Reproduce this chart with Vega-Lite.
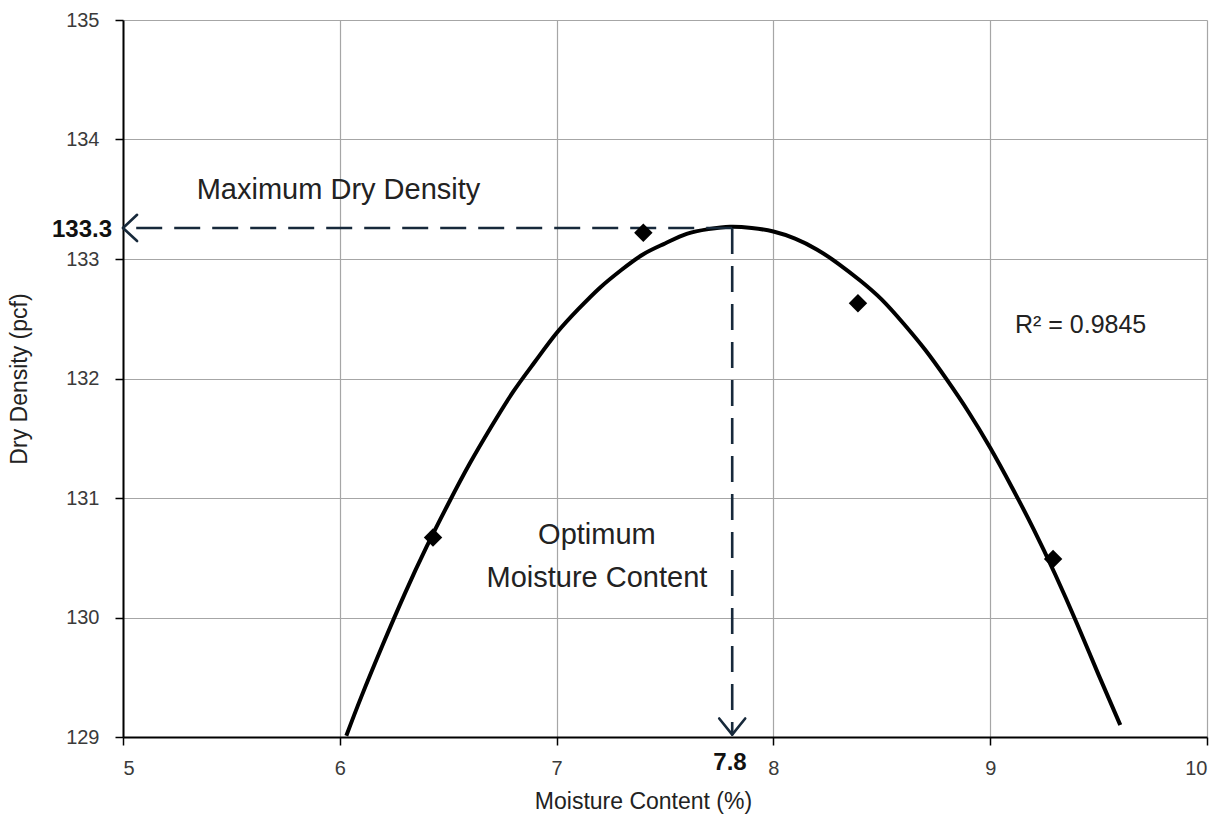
{
  "$schema": "https://vega.github.io/schema/vega-lite/v6.json",
  "width": 1084,
  "height": 717,
  "autosize": {"type": "none"},
  "padding": {"left": 123, "top": 20, "right": 20, "bottom": 88},
  "background": "white",
  "config": {
    "view": {"stroke": null},
    "font": "Liberation Sans",
    "axis": {
      "labelFont": "Liberation Sans",
      "titleFont": "Liberation Sans",
      "labelFontSize": 20,
      "titleFontSize": 23,
      "labelColor": "#3a3a3a",
      "titleColor": "#222222",
      "titleFontWeight": "normal",
      "gridColor": "#a6a6a6",
      "gridWidth": 1.2,
      "gridOpacity": 1,
      "domainColor": "#000000",
      "domainWidth": 2,
      "tickColor": "#000000",
      "tickWidth": 1.5,
      "tickSize": 8
    }
  },
  "datasets": {
    "curve": [
      {"mc": 6.03, "dd": 129.01}, {"mc": 6.1, "dd": 129.34}, {"mc": 6.2, "dd": 129.78},
      {"mc": 6.3, "dd": 130.2}, {"mc": 6.4, "dd": 130.59}, {"mc": 6.5, "dd": 130.95},
      {"mc": 6.6, "dd": 131.29}, {"mc": 6.7, "dd": 131.6}, {"mc": 6.8, "dd": 131.89},
      {"mc": 6.9, "dd": 132.14}, {"mc": 7.0, "dd": 132.38}, {"mc": 7.1, "dd": 132.58},
      {"mc": 7.2, "dd": 132.76}, {"mc": 7.3, "dd": 132.91}, {"mc": 7.4, "dd": 133.04},
      {"mc": 7.5, "dd": 133.13}, {"mc": 7.6, "dd": 133.21}, {"mc": 7.7, "dd": 133.25},
      {"mc": 7.8, "dd": 133.27}, {"mc": 7.9, "dd": 133.26}, {"mc": 8.0, "dd": 133.23},
      {"mc": 8.1, "dd": 133.17}, {"mc": 8.2, "dd": 133.08}, {"mc": 8.3, "dd": 132.96},
      {"mc": 8.4, "dd": 132.82}, {"mc": 8.5, "dd": 132.66}, {"mc": 8.6, "dd": 132.46},
      {"mc": 8.7, "dd": 132.24}, {"mc": 8.8, "dd": 131.99}, {"mc": 8.9, "dd": 131.72},
      {"mc": 9.0, "dd": 131.42}, {"mc": 9.1, "dd": 131.09}, {"mc": 9.2, "dd": 130.74},
      {"mc": 9.3, "dd": 130.36}, {"mc": 9.4, "dd": 129.95}, {"mc": 9.5, "dd": 129.52},
      {"mc": 9.6, "dd": 129.1}
    ],
    "tests": [
      {"mc": 6.43, "dd": 130.67},
      {"mc": 7.4, "dd": 133.22},
      {"mc": 8.39, "dd": 132.63},
      {"mc": 9.29, "dd": 130.49}
    ],
    "guides": [
      {"x": 7.81, "y": 133.26, "x2": 5.0, "y2": 133.26},
      {"x": 7.81, "y": 133.26, "x2": 7.81, "y2": 129.02}
    ],
    "arrows": [
      {"x": 5.0, "y": 133.26, "x2": 5.065, "y2": 133.37},
      {"x": 5.0, "y": 133.26, "x2": 5.065, "y2": 133.15},
      {"x": 7.81, "y": 129.02, "x2": 7.75, "y2": 129.155},
      {"x": 7.81, "y": 129.02, "x2": 7.87, "y2": 129.155}
    ],
    "notes": [
      {"x": 5.34, "y": 133.58, "label": "Maximum Dry Density", "kind": "max"},
      {"x": 7.186, "y": 130.69, "label": "Optimum", "kind": "opt"},
      {"x": 7.186, "y": 130.33, "label": "Moisture Content", "kind": "opt"},
      {"x": 9.114, "y": 132.45, "label": "R² = 0.9845", "kind": "r2"}
    ],
    "marks": [
      {"x": 5.0, "y": 133.26, "label": "133.3", "kind": "y"},
      {"x": 7.8, "y": 129.0, "label": "7.8", "kind": "x"}
    ]
  },
  "encoding": {
    "x": {
      "field": "mc",
      "type": "quantitative",
      "scale": {"domain": [5, 10], "nice": false, "zero": false},
      "axis": {
        "title": "Moisture Content (%)",
        "values": [5, 6, 7, 8, 9, 10],
        "grid": true,
        "labelPadding": 13,
        "titlePadding": 12,
        "titleX": 520
      }
    },
    "y": {
      "field": "dd",
      "type": "quantitative",
      "scale": {"domain": [129, 135], "nice": false, "zero": false},
      "axis": {
        "title": "Dry Density (pcf)",
        "values": [129, 130, 131, 132, 133, 134, 135],
        "grid": true,
        "labelPadding": 16,
        "titlePadding": 34
      }
    }
  },
  "layer": [
    {
      "data": {"name": "curve"},
      "mark": {"type": "line", "color": "#000000", "strokeWidth": 4, "interpolate": "natural"},
      "encoding": {}
    },
    {
      "data": {"name": "guides"},
      "mark": {"type": "rule", "color": "#17293b", "strokeWidth": 2.6, "strokeDash": [26, 12]},
      "encoding": {
        "x": {"field": "x", "type": "quantitative"},
        "y": {"field": "y", "type": "quantitative"},
        "x2": {"field": "x2"},
        "y2": {"field": "y2"}
      }
    },
    {
      "data": {"name": "arrows"},
      "mark": {"type": "rule", "color": "#17293b", "strokeWidth": 2.6, "strokeCap": "round"},
      "encoding": {
        "x": {"field": "x", "type": "quantitative"},
        "y": {"field": "y", "type": "quantitative"},
        "x2": {"field": "x2"},
        "y2": {"field": "y2"}
      }
    },
    {
      "data": {"name": "tests"},
      "mark": {"type": "point", "shape": "diamond", "filled": true, "color": "#000000", "size": 340, "opacity": 1},
      "encoding": {}
    },
    {
      "data": {"name": "notes"},
      "transform": [{"filter": "datum.kind === 'max'"}],
      "mark": {"type": "text", "align": "left", "baseline": "middle", "fontSize": 29, "color": "#222222", "font": "Liberation Sans"},
      "encoding": {
        "x": {"field": "x", "type": "quantitative"},
        "y": {"field": "y", "type": "quantitative"},
        "text": {"field": "label"}
      }
    },
    {
      "data": {"name": "notes"},
      "transform": [{"filter": "datum.kind === 'opt'"}],
      "mark": {"type": "text", "align": "center", "baseline": "middle", "fontSize": 29, "color": "#222222", "font": "Liberation Sans"},
      "encoding": {
        "x": {"field": "x", "type": "quantitative"},
        "y": {"field": "y", "type": "quantitative"},
        "text": {"field": "label"}
      }
    },
    {
      "data": {"name": "notes"},
      "transform": [{"filter": "datum.kind === 'r2'"}],
      "mark": {"type": "text", "align": "left", "baseline": "middle", "fontSize": 25, "color": "#222222", "font": "Liberation Sans"},
      "encoding": {
        "x": {"field": "x", "type": "quantitative"},
        "y": {"field": "y", "type": "quantitative"},
        "text": {"field": "label"}
      }
    },
    {
      "data": {"name": "marks"},
      "transform": [{"filter": "datum.kind === 'y'"}],
      "mark": {"type": "text", "align": "right", "baseline": "middle", "dx": -11, "dy": 2, "fontSize": 24, "fontWeight": "bold", "color": "#111111", "font": "Liberation Sans"},
      "encoding": {
        "x": {"field": "x", "type": "quantitative"},
        "y": {"field": "y", "type": "quantitative"},
        "text": {"field": "label"}
      }
    },
    {
      "data": {"name": "marks"},
      "transform": [{"filter": "datum.kind === 'x'"}],
      "mark": {"type": "text", "align": "center", "baseline": "middle", "dy": 26, "fontSize": 24, "fontWeight": "bold", "color": "#111111", "font": "Liberation Sans"},
      "encoding": {
        "x": {"field": "x", "type": "quantitative"},
        "y": {"field": "y", "type": "quantitative"},
        "text": {"field": "label"}
      }
    }
  ]
}
